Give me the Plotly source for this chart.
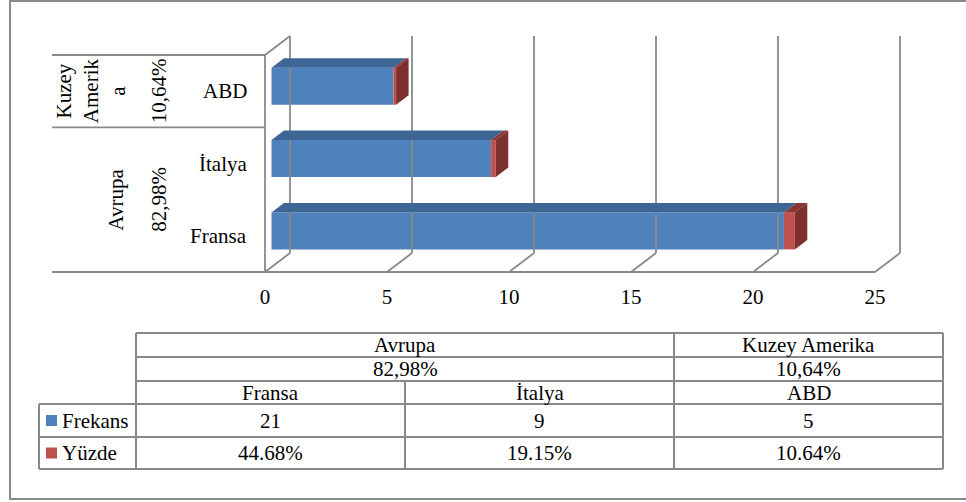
import plotly.graph_objects as go

# ---------------- data ----------------
categories = ["Fransa", "İtalya", "ABD"]
region_axis_labels = ["Avrupa", "Kuzey<br>Amerik<br>a"]
region_table_labels = ["Avrupa", "Kuzey Amerika"]
region_shares = ["82,98%", "10,64%"]
region_members = [[0, 1], [2]]
frekans = [21, 9, 5]
yuzde = [44.68, 19.15, 10.64]
yuzde_labels = ["44.68%", "19.15%", "10.64%"]
x_ticks = [0, 5, 10, 15, 20, 25]
x_tick_labels = ["0", "5", "10", "15", "20", "25"]
series_names = ["Frekans", "Yüzde"]

# ---------------- layout constants ----------------
W, H = 966, 502
X0_PX, X25_PX = 265, 875
FLOOR_PX, TOP_PX = 272, 55
PPU = (X25_PX - X0_PX) / 25.0
PPC = (FLOOR_PX - TOP_PX) / 3.0
DX = 25 / PPU          # full depth, x data units
DY = 19 / PPC          # full depth, category units
T0, T1 = 0.26, 0.76
BW = 37 / PPC
LEFT_PX = 52

BLUE, BLUE_TOP = "#4F81BD", "#3E6694"
RED, RED_SIDE, RED_TOP = "#C0504D", "#7E302E", "#8A3634"
GRID = "#898989"
FONT = "Liberation Serif, Times New Roman, DejaVu Serif, serif"
FS = 21


def xd(px):
    return (px - X0_PX) / PPU


def yd(py):
    return (FLOOR_PX - py) / PPC - 0.5


def PX(px):
    return px / W


def PY(py):
    return 1 - py / H


fig = go.Figure()

# ---------------- walls / grid ----------------
lx, ly = [], []
ncat = len(categories)
ytop = ncat - 0.5
ybot = -0.5
lx += [0, 0, None, 0, DX, None]
ly += [ybot, ytop, None, ytop, ytop + DY, None]
for v in x_ticks:
    lx += [v + DX, v + DX, None, v, v + DX, None]
    ly += [ybot + DY, ytop + DY, None, ybot, ybot + DY, None]
lx += [xd(LEFT_PX), x_ticks[-1], None]
ly += [ybot, ybot, None]
for mem in region_members:
    b = max(mem) + 0.5
    lx += [xd(LEFT_PX), 0, None]
    ly += [b, b, None]
fig.add_trace(go.Scatter(x=lx, y=ly, mode="lines", line=dict(color=GRID, width=1.8),
                         hoverinfo="skip", showlegend=False))

# ---------------- 3D faces ----------------
bdx, bdy = (T1 - T0) * DX, (T1 - T0) * DY


def top_poly(xa, xb, yt):
    return [xa, xa + bdx, xb + bdx, xb, xa, None], [yt, yt + bdy, yt + bdy, yt, yt, None]


bt_x, bt_y, rt_x, rt_y, rs_x, rs_y = [], [], [], [], [], []
for i in range(ncat):
    yc = i + T0 * DY
    yt, yb = yc + BW / 2, yc - BW / 2
    x0 = T0 * DX
    xf = x0 + frekans[i]
    xe = xf + yuzde[i] / 100.0
    a, b = top_poly(x0, xf, yt)
    bt_x += a; bt_y += b
    a, b = top_poly(xf, xe, yt)
    rt_x += a; rt_y += b
    rs_x += [xe, xe + bdx, xe + bdx, xe, xe, None]
    rs_y += [yt, yt + bdy, yb + bdy, yb, yt, None]

for fx, fy, col in [(bt_x, bt_y, BLUE_TOP), (rt_x, rt_y, RED_TOP), (rs_x, rs_y, RED_SIDE)]:
    fig.add_trace(go.Scatter(x=fx, y=fy, mode="lines", fill="toself", fillcolor=col,
                             line=dict(width=0, color=col), hoverinfo="skip", showlegend=False))

# ---------------- front faces (bars) ----------------
ypos = [i + T0 * DY for i in range(ncat)]
fig.add_trace(go.Bar(name=series_names[0], orientation="h", y=ypos, x=frekans,
                     base=[T0 * DX] * ncat, width=BW, marker=dict(color=BLUE, line=dict(width=0)),
                     showlegend=False))
fig.add_trace(go.Bar(name=series_names[1], orientation="h", y=ypos, x=[p / 100.0 for p in yuzde],
                     base=[T0 * DX + f for f in frekans], width=BW,
                     marker=dict(color=RED, line=dict(width=0)), showlegend=False))

annotations = []
font = dict(family=FONT, size=FS, color="black")
for i, c in enumerate(categories):
    annotations.append(dict(x=xd(249), y=i, xref="x", yref="y", text=c, showarrow=False,
                            xanchor="right", yanchor="middle", font=font))
region_x_px = [116, 91]
for r, mem in enumerate(region_members):
    yc = (min(mem) + max(mem)) / 2.0
    annotations.append(dict(x=xd(region_x_px[r]), y=yc, xref="x", yref="y", text=region_axis_labels[r],
                            showarrow=False, textangle=-90, xanchor="center", yanchor="middle", font=font))
    annotations.append(dict(x=xd(159), y=yc, xref="x", yref="y", text=region_shares[r],
                            showarrow=False, textangle=-90, xanchor="center", yanchor="middle", font=font))

# ---------------- data table ----------------
shapes = []
T_L, T_R, LEG_L = 136, 943, 39
rows = [333, 357, 381, 404, 437, 469]
colw = (T_R - T_L) / ncat
col_edges = [T_L + k * colw for k in range(ncat + 1)]


def hline(y, x0, x1):
    shapes.append(dict(type="line", xref="paper", yref="paper", x0=PX(x0), x1=PX(x1), y0=PY(y), y1=PY(y),
                       line=dict(color=GRID, width=2)))


def vline(x, y0, y1):
    shapes.append(dict(type="line", xref="paper", yref="paper", x0=PX(x), x1=PX(x), y0=PY(y0), y1=PY(y1),
                       line=dict(color=GRID, width=2)))


def cell_text(txt, xc, yc, anchor="center"):
    annotations.append(dict(x=PX(xc), y=PY(yc), xref="paper", yref="paper", text=txt, showarrow=False,
                            xanchor=anchor, yanchor="middle", font=font))


for k, y in enumerate(rows):
    hline(y, LEG_L if k >= 3 else T_L, T_R)
vline(T_L, rows[0], rows[-1])
vline(T_R, rows[0], rows[-1])
vline(LEG_L, rows[3], rows[-1])
for r, mem in enumerate(region_members):
    x0 = col_edges[min(mem)]
    x1 = col_edges[max(mem) + 1]
    if max(mem) + 1 < ncat:
        vline(x1, rows[0], rows[-1])
    for j in mem[:-1]:
        vline(col_edges[j + 1], rows[2], rows[-1])
    cell_text(region_table_labels[r], (x0 + x1) / 2, (rows[0] + rows[1]) / 2)
    cell_text(region_shares[r], (x0 + x1) / 2, (rows[1] + rows[2]) / 2)

for i, c in enumerate(categories):
    xc = (col_edges[i] + col_edges[i + 1]) / 2
    cell_text(c, xc, (rows[2] + rows[3]) / 2)
    cell_text(str(frekans[i]), xc, (rows[3] + rows[4]) / 2)
    cell_text(yuzde_labels[i], xc, (rows[4] + rows[5]) / 2)

for s, (name, col) in enumerate(zip(series_names, [BLUE, RED])):
    yc = (rows[3 + s] + rows[4 + s]) / 2
    shapes.append(dict(type="rect", xref="paper", yref="paper", x0=PX(46), x1=PX(57),
                       y0=PY(yc - 5.5), y1=PY(yc + 5.5), fillcolor=col, line=dict(width=0)))
    cell_text(name, 60, yc, anchor="left")

shapes.append(dict(type="rect", xref="paper", yref="paper", x0=PX(10), x1=PX(975), y0=PY(499), y1=PY(1),
                   line=dict(color=GRID, width=2)))

fig.update_layout(
    width=W, height=H, margin=dict(l=0, r=0, t=0, b=0),
    paper_bgcolor="white", plot_bgcolor="rgba(0,0,0,0)",
    barmode="overlay", showlegend=False,
    xaxis=dict(range=[xd(0), xd(W)], domain=[0, 1], anchor="free", position=PY(FLOOR_PX),
               tickvals=x_ticks, ticktext=x_tick_labels, showgrid=False, zeroline=False,
               showline=False, ticks="", tickfont=font, ticklabelstandoff=10, automargin=False,
               fixedrange=True),
    yaxis=dict(range=[yd(H), yd(0)], domain=[0, 1], visible=False, fixedrange=True),
    annotations=annotations, shapes=shapes,
)

fig.write_html("out.html", config={"displayModeBar": False},
               post_script="document.body.style.margin='0px';document.body.style.overflow='hidden';")
